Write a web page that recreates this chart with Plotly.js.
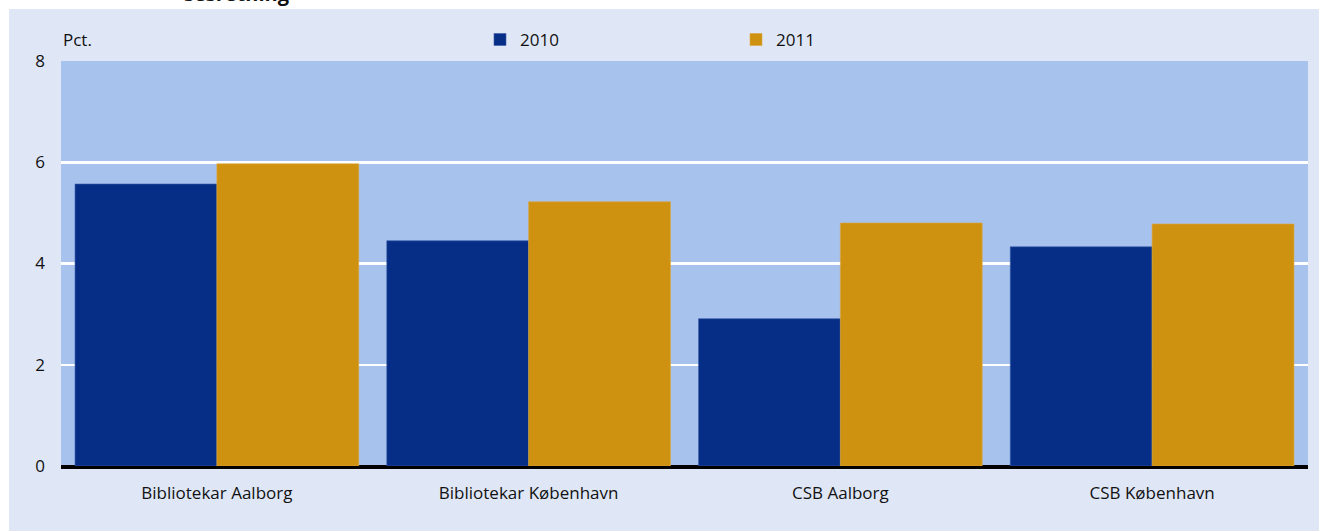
<!DOCTYPE html>
<html>
<head>
<meta charset="utf-8">
<script src="https://cdn.plot.ly/plotly-3.0.1.min.js"></script>
<style>
  html, body { margin: 0; padding: 0; background: #ffffff; }
  #panel { position: absolute; left: 9px; top: 9px; width: 1310px; height: 522px; background: #dfe7f7; }
  #chart { position: absolute; left: 0; top: 0; width: 1319px; height: 531px; }
</style>
</head>
<body>
<div id="panel"></div>
<div id="chart"></div>
<script>
const categories = ["Bibliotekar Aalborg", "Bibliotekar København", "CSB Aalborg", "CSB København"];
const values2010 = [5.57, 4.45, 2.91, 4.33];
const values2011 = [5.97, 5.22, 4.80, 4.78];
const seriesNames = ["2010", "2011"];
const yTicks = [0, 2, 4, 6, 8];

const font = "Open Sans, Lato, sans-serif";
const fs = 17;

const traces = [
  { type: "bar", name: seriesNames[0], x: categories, y: values2010,
    marker: { color: "#062e86", line: { color: "#3a5ea8", width: 0.6 } } },
  { type: "bar", name: seriesNames[1], x: categories, y: values2011,
    marker: { color: "#cf9210", line: { color: "#dba640", width: 0.6 } } }
];

const layout = {
  width: 1319, height: 531,
  margin: { l: 61, r: 11, t: 61, b: 65, autoexpand: false },
  paper_bgcolor: "rgba(0,0,0,0)",
  plot_bgcolor: "#a7c2ec",
  barmode: "group",
  bargap: 0.09,
  bargroupgap: 0,
  font: { family: font, size: fs, color: "#111111" },
  showlegend: true,
  legend: {
    orientation: "h", x: 0.336, xanchor: "left", y: 1.052, yanchor: "middle",
    bgcolor: "rgba(0,0,0,0)", entrywidth: 211, entrywidthmode: "pixels",
    font: { family: font, size: fs, color: "#111111" },
    traceorder: "normal"
  },
  xaxis: {
    showgrid: false, ticks: "", showline: true, linecolor: "#000000", linewidth: 3,
    tickfont: { family: font, size: fs, color: "#111111" },
    ticklabelstandoff: 10
  },
  yaxis: {
    range: [0, 8], tickvals: yTicks, ticktext: yTicks.map(String),
    showgrid: true, gridcolor: "#ffffff", gridwidth: 2.5,
    zeroline: true, zerolinecolor: "#000000", zerolinewidth: 3,
    ticks: "", showline: false,
    tickfont: { family: font, size: fs, color: "#111111" },
    ticklabelstandoff: 15
  },
  annotations: [
    { text: "Pct.", xref: "paper", yref: "paper", x: 0, y: 1.052, xanchor: "left", yanchor: "middle",
      showarrow: false, font: { family: font, size: fs, color: "#111111" } },
    { text: "<b>sesretning</b>", xref: "paper", yref: "paper", x: 0.0968, y: 1.128, xanchor: "left", yanchor: "bottom",
      yshift: 0, showarrow: false, font: { family: font, size: 20, color: "#111111" } }
  ]
};

Plotly.newPlot("chart", traces, layout, { displayModeBar: false, staticPlot: true });
</script>
</body>
</html>
